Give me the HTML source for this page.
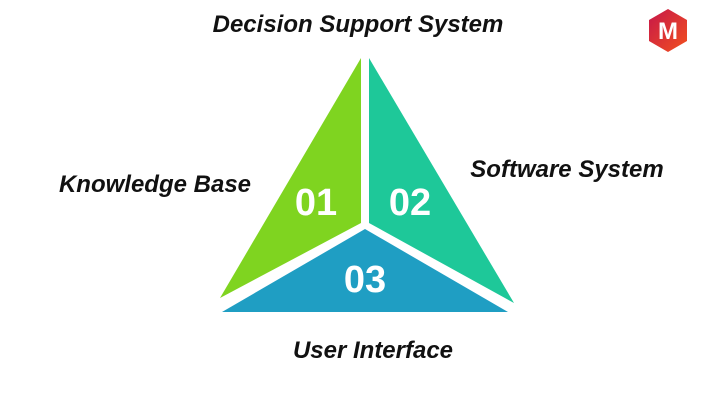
<!DOCTYPE html>
<html><head><style>
body{margin:0;width:720px;height:404px;background:#fff;overflow:hidden}
</style></head><body>
<svg width="720" height="404" xmlns="http://www.w3.org/2000/svg" font-family="Liberation Sans, sans-serif">
<polygon points="361,58 361,223 220,298" fill="#7fd420"/>
<polygon points="369,58 369,223 514,303" fill="#1ec899"/>
<polygon points="365,229 222,312 508,312" fill="#1f9ec3"/>
<g fill="#fff" font-weight="bold" font-size="38" text-anchor="middle">
<text x="316" y="215">01</text>
<text x="410" y="215">02</text>
<text x="365" y="292">03</text>
</g>
<g fill="#111" font-weight="bold" font-style="italic" font-size="24" text-anchor="middle">
<text x="358" y="32">Decision Support System</text>
<text x="155" y="192">Knowledge Base</text>
<text x="567" y="177">Software System</text>
<text x="373" y="358">User Interface</text>
</g>
<defs><linearGradient id="g" x1="0" y1="0" x2="1" y2="1"><stop offset="0" stop-color="#c6174a"/><stop offset="1" stop-color="#f2501e"/></linearGradient></defs>
<polygon points="668,9 687,20 687,41 668,52 649,41 649,20" fill="url(#g)"/>
<text x="668" y="39" fill="#fff" font-weight="bold" font-size="24" text-anchor="middle">M</text>
</svg>
</body></html>
